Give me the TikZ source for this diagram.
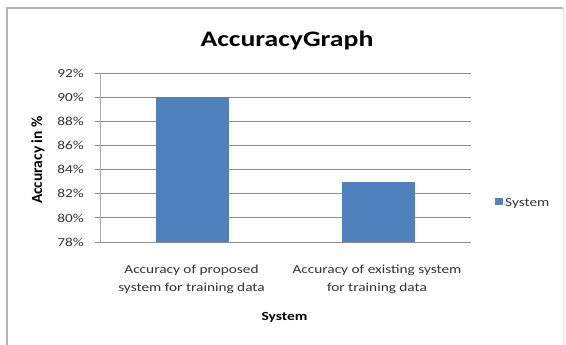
\documentclass[tikz,border=0pt]{standalone}
\usepackage{fontspec}
\setmainfont{Carlito}
\definecolor{barblue}{HTML}{4F81BD}
\definecolor{gridgray}{HTML}{8C8C8C}
\definecolor{framegray}{HTML}{B4B4B4}
\definecolor{txt}{HTML}{333333}
% horizontal chart text is set slightly flattened
\newcommand\sqz[1]{\scalebox{1}[0.8]{#1}}
\tikzset{
  gridline/.style={draw=gridgray, line width=0.9pt},
  bar/.style={fill=barblue, draw=none},
  ticklabel/.style={anchor=east, inner sep=0pt, text=txt, font=\fontsize{15.3}{18}\selectfont},
  catlabel/.style={anchor=base, inner sep=0pt, text=txt, font=\fontsize{15.3}{18}\selectfont},
  axistitle/.style={inner sep=0pt, text=black, font=\fontsize{15.5}{18}\selectfont\bfseries},
}
\begin{document}
\begin{tikzpicture}[x=1pt, y=-1pt]
  \useasboundingbox (0,0) rectangle (566,345);
  \fill[white] (0,0) rectangle (566,345);
  % chart frame
  \draw[framegray, line width=1.4pt] (7,345) -- (7,8) -- (563,8);
  \draw[framegray!40, line width=1pt] (563,8) -- (563,345);

  % title
  \node[anchor=base, inner sep=0pt, font=\fontsize{27.7}{30}\selectfont\bfseries] (title) at (287,46.5) {\sqz{AccuracyGraph}};

  % gridlines and value labels (2% steps, 12.05 px per percent)
  \foreach \v in {78,80,...,92} {
    \pgfmathsetmacro{\yy}{242-(\v-78)*12.05}
    \draw[gridline] (95,\yy) -- (471,\yy);
    \node[ticklabel] (tick\v) at (84,\yy) {\sqz{\v\%}};
  }
  % value axis
  \draw[gridgray!70, line width=0.8pt] (100,73.3) -- (100,242);

  % bars
  \coordinate (b1bot) at (156,242);
  \coordinate (b1top) at (229,{242-12*12.05});
  \coordinate (b2bot) at (342,242);
  \coordinate (b2top) at (415,{242-5*12.05});
  \path[bar] (b1bot) rectangle (b1top);
  \path[bar] (b2bot) rectangle (b2top);

  % category labels
  \node[catlabel] (cat1a) at (191.5,273.5) {\sqz{Accuracy of proposed}};
  \node[catlabel] (cat1b) at (191.5,291.5) {\sqz{system for training data}};
  \node[catlabel] (cat2a) at (377,273.5) {\sqz{Accuracy of existing system}};
  \node[catlabel] (cat2b) at (377,291.5) {\sqz{for training data}};

  % axis titles
  \node[axistitle, anchor=base] (xtitle) at (284.5,320.5) {\sqz{System}};
  \node[axistitle, rotate=90] (ytitle) at (38,160) {Accuracy in \%};

  % legend
  \path[bar] (495,198) rectangle (502.5,205.5);
  \node[catlabel, anchor=base west] (legend) at (505,206.5) {\sqz{System}};
\end{tikzpicture}
\end{document}
